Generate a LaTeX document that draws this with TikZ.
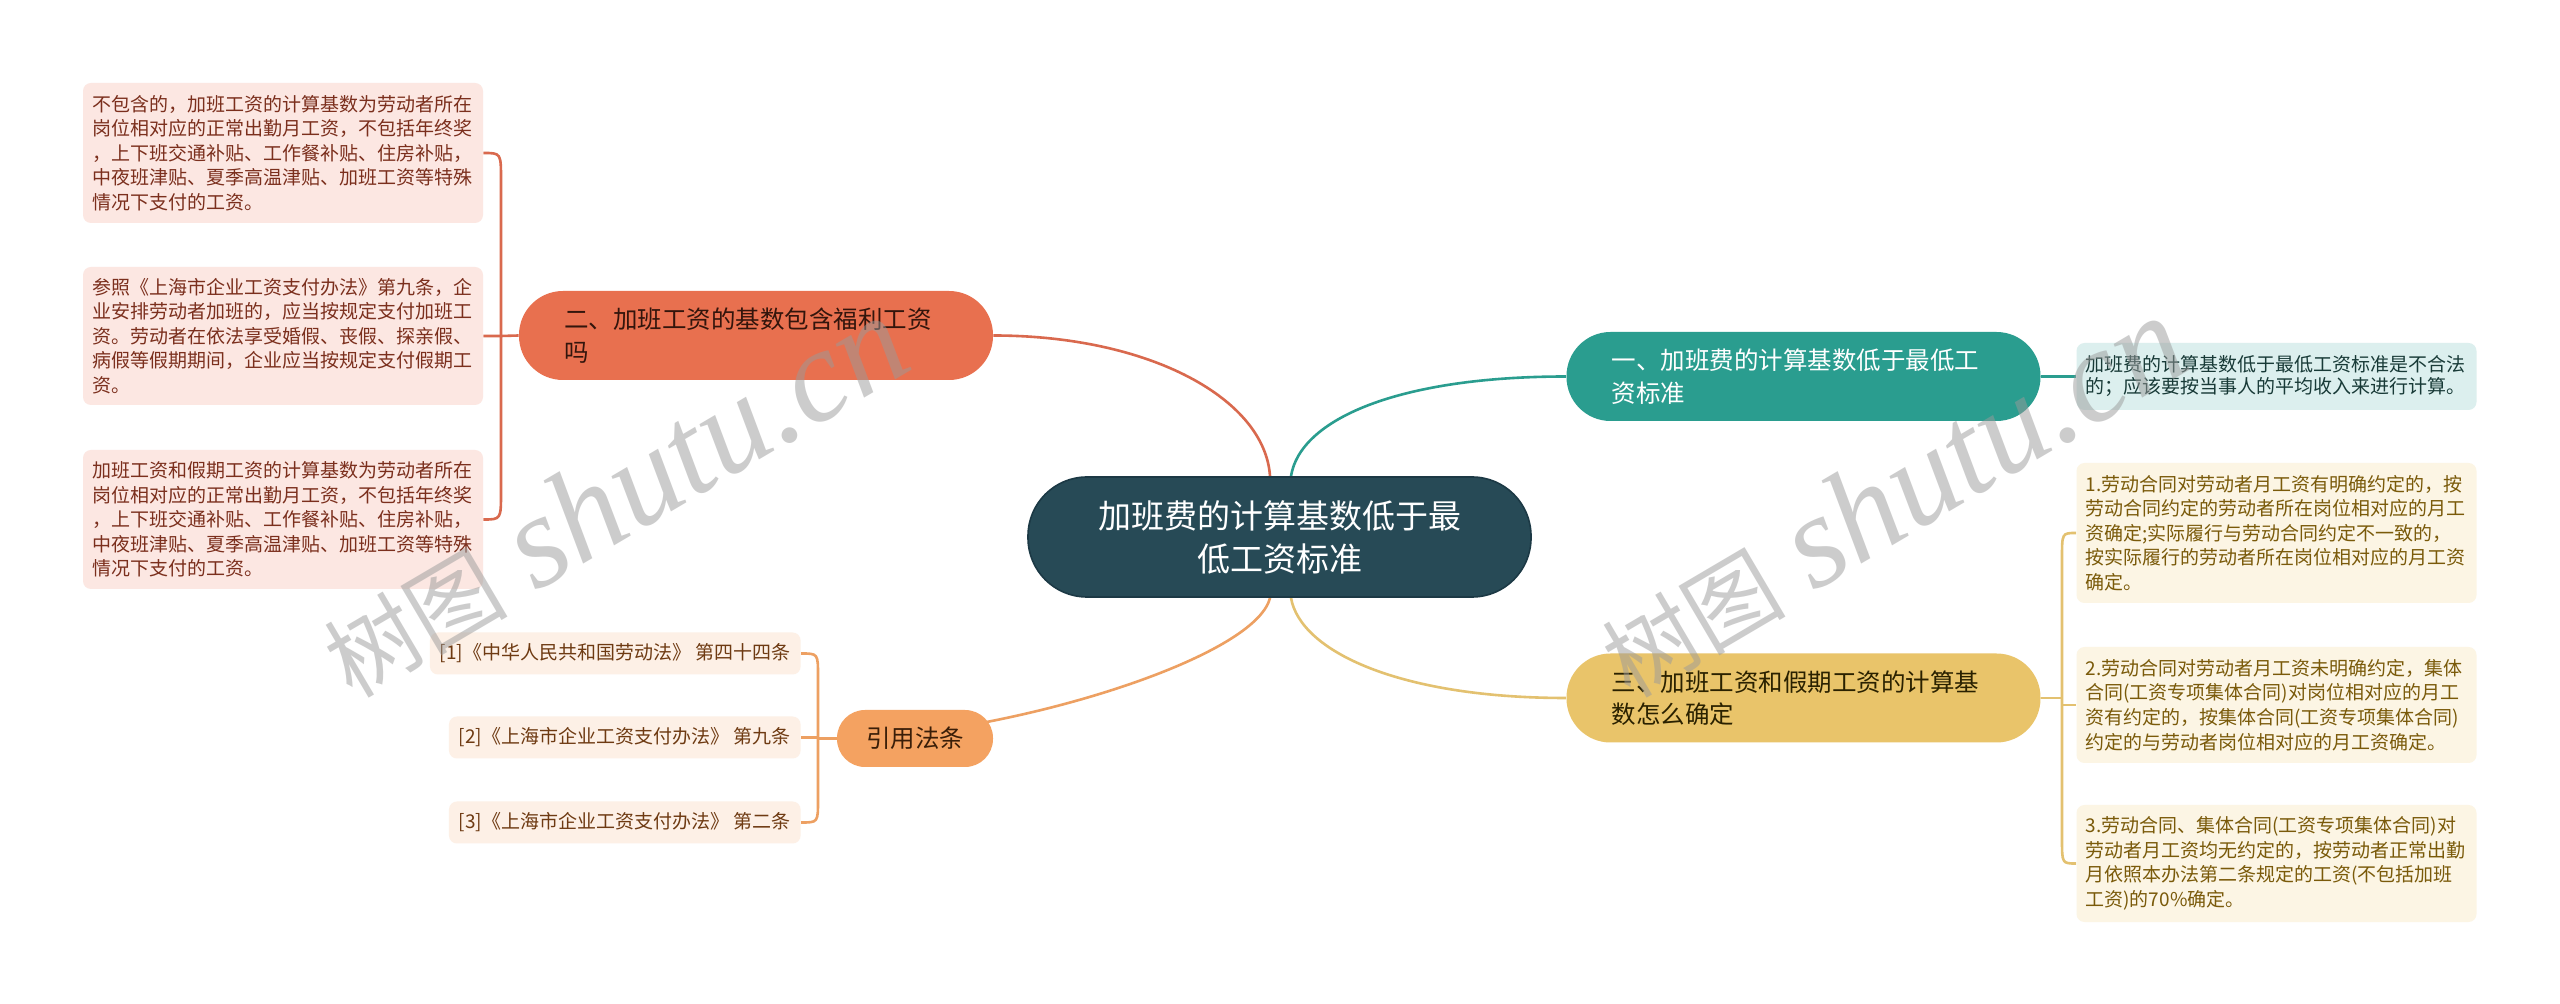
\documentclass[tikz,border=0pt]{standalone}
\usepackage{fontspec}
\setmainfont{Noto Sans CJK SC}
\newfontfamily\wmserif{Liberation Serif}
\usetikzlibrary{backgrounds}
\definecolor{cCentral}{HTML}{274A56}
\definecolor{cCentralB}{HTML}{1C3945}
\definecolor{cRed}{HTML}{E8704F}
\definecolor{cRedT}{HTML}{33150C}
\definecolor{cRedL}{HTML}{D9694E}
\definecolor{cTeal}{HTML}{2A9D8F}
\definecolor{cYel}{HTML}{E9C46A}
\definecolor{cYelT}{HTML}{2A2100}
\definecolor{cYelL}{HTML}{E3C170}
\definecolor{cOra}{HTML}{F4A261}
\definecolor{cOraT}{HTML}{3A1E08}
\definecolor{cOraL}{HTML}{EDA062}
\definecolor{lRed}{HTML}{FCE7E2}
\definecolor{lRedT}{HTML}{7B2F1D}
\definecolor{lTeal}{HTML}{DCEFEE}
\definecolor{lTealT}{HTML}{183A37}
\definecolor{lYel}{HTML}{FCF5E4}
\definecolor{lYelT}{HTML}{7A5A0A}
\definecolor{lOra}{HTML}{FDF0E6}
\definecolor{lOraT}{HTML}{6E3A12}
\definecolor{wmGray}{HTML}{9A9A9A}
\begin{document}
\begin{tikzpicture}[x=0.5pt,y=-0.5pt,
  centralnode/.style={fill=cCentral, draw=cCentralB, line width=0.8pt, text=white,
    font=\fontsize{16.5pt}{21.5pt}\selectfont, align=center, minimum width=251.5pt,
    minimum height=60pt, rounded corners=29.5pt, inner sep=0pt},
  branch/.style={minimum height=44.5pt, text width=192pt, inner xsep=22.5pt, inner ysep=0pt,
    align=left, rounded corners=22pt, font=\fontsize{12.25pt}{16.25pt}\selectfont},
  refnode/.style={fill=cOra, text=cOraT, minimum width=78pt, minimum height=28.5pt,
    rounded corners=14pt, font=\fontsize{12.25pt}{15pt}\selectfont, inner sep=0pt},
  leaf/.style={text width=191pt, inner xsep=4.5pt, inner ysep=0pt, align=left,
    rounded corners=4pt, font=\fontsize{9.5pt}{12.3pt}\selectfont},
  refleaf/.style={inner xsep=5pt, inner ysep=0pt, minimum height=21pt, rounded corners=4pt,
    fill=lOra, text=lOraT, font=\fontsize{9.5pt}{12pt}\selectfont, anchor=east},
  con/.style={line width=1.3pt},
  wm/.style={text=wmGray, opacity=0.5, inner sep=0pt, anchor=base west, rotate=30.5}
]
\useasboundingbox (0,0) rectangle (2560,1004);

% central and branch nodes
\node[centralnode] (c) at (1279.5,537) {加班费的计算基数低于最\\低工资标准};
\node[branch, fill=cRed, text=cRedT] (b2) at (756,335.5) {二、加班工资的基数包含福利工资\\吗};
\node[branch, fill=cTeal, text=white] (b1) at (1803.5,376.5) {一、加班费的计算基数低于最低工\\资标准};
\node[branch, fill=cYel, text=cYelT] (b3) at (1803.5,698) {三、加班工资和假期工资的计算基\\数怎么确定};
\node[refnode] (b4) at (915,738.5) {引用法条};

% left leaves
\node[leaf, fill=lRed, text=lRedT, minimum height=70pt] (l1) at (283,153) {不包含的，加班工资的计算基数为劳动者所在\\岗位相对应的正常出勤月工资，不包括年终奖\\，上下班交通补贴、工作餐补贴、住房补贴，\\中夜班津贴、夏季高温津贴、加班工资等特殊\\情况下支付的工资。};
\node[leaf, fill=lRed, text=lRedT, minimum height=69pt] (l2) at (283,336) {参照《上海市企业工资支付办法》第九条，企\\业安排劳动者加班的，应当按规定支付加班工\\资。劳动者在依法享受婚假、丧假、探亲假、\\病假等假期期间，企业应当按规定支付假期工\\资。};
\node[leaf, fill=lRed, text=lRedT, minimum height=69.5pt] (l3) at (283,519.5) {加班工资和假期工资的计算基数为劳动者所在\\岗位相对应的正常出勤月工资，不包括年终奖\\，上下班交通补贴、工作餐补贴、住房补贴，\\中夜班津贴、夏季高温津贴、加班工资等特殊\\情况下支付的工资。};

% right leaves
\node[leaf, fill=lTeal, text=lTealT, minimum height=33.5pt, font=\fontsize{9.5pt}{11pt}\selectfont] (t1) at (2276.5,376.5) {加班费的计算基数低于最低工资标准是不合法\\的；应该要按当事人的平均收入来进行计算。};
\node[leaf, fill=lYel, text=lYelT, minimum height=70pt] (y1) at (2276.5,533) {1.劳动合同对劳动者月工资有明确约定的，按\\劳动合同约定的劳动者所在岗位相对应的月工\\资确定;实际履行与劳动合同约定不一致的，\\按实际履行的劳动者所在岗位相对应的月工资\\确定。};
\node[leaf, fill=lYel, text=lYelT, minimum height=58pt] (y2) at (2276.5,705) {2.劳动合同对劳动者月工资未明确约定，集体\\合同(工资专项集体合同)对岗位相对应的月工\\资有约定的，按集体合同(工资专项集体合同)\\约定的与劳动者岗位相对应的月工资确定。};
\node[leaf, fill=lYel, text=lYelT, minimum height=58.5pt] (y3) at (2276.5,863.5) {3.劳动合同、集体合同(工资专项集体合同)对\\劳动者月工资均无约定的，按劳动者正常出勤\\月依照本办法第二条规定的工资(不包括加班\\工资)的70\%确定。};

% reference leaves
\node[refleaf] (r1) at (801,653.5) {[1]《中华人民共和国劳动法》 第四十四条};
\node[refleaf] (r2) at (801,737.5) {[2]《上海市企业工资支付办法》 第九条};
\node[refleaf] (r3) at (801,822.5) {[3]《上海市企业工资支付办法》 第二条};

% junction coordinates
\coordinate (lb) at (501,336);
\coordinate (yb) at (2062,698);
\coordinate (rb) at (818,738.5);

\begin{scope}[on background layer]
\fill[white] (0,0) rectangle (2560,1004);
% main curves
\draw[con, cRedL] ([xshift=-4.75pt]c.north) .. controls +(-2.5pt,38.5pt) and +(78.5pt,0pt) .. (b2.east);
\draw[con, cTeal] ([xshift=5.75pt]c.north) .. controls +(4.5pt,28.5pt) and +(-84pt,0pt) .. (b1.west);
\draw[con, cYelL] ([xshift=5.75pt]c.south) .. controls +(4.5pt,-26.5pt) and +(-84pt,0pt) .. (b3.west);
\draw[con, cOraL] ([xshift=-4.75pt]c.south) .. controls +(-7.5pt,-31.5pt) and +(78.5pt,0pt) .. (b4.west);
% left bracket
\draw[con, cRedL] (b2.west) -- (lb) -- (l2.east);
\draw[con, cRedL] (l1.east) .. controls (501,153) .. (501,180) -- (501,492) .. controls (501,519.5) .. (l3.east);
% teal
\draw[con, cTeal] (b1.east) -- (t1.west);
% yellow bracket
\draw[con, cYelL] (b3.east) -- (yb);
\draw[con, cYelL] (yb |- y2.west) -- (y2.west);
\draw[con, cYelL] (y1.west) .. controls (2062,533) .. (2062,558) -- (2062,839) .. controls (2062,863.5) .. (y3.west);
% reference bracket
\draw[con, cOraL] (b4.west) -- (rb);
\draw[con, cOraL] (rb |- r2.east) -- (r2.east);
\draw[con, cOraL] (r1.east) .. controls (818,653.5) .. (818,676) -- (818,800) .. controls (818,822.5) .. (r3.east);
\end{scope}

% watermark
\node[wm] (wm1) at (352,700) {{\fontsize{46pt}{46pt}\selectfont 树图}\hspace{14pt}{\wmserif\itshape\fontsize{66pt}{66pt}\selectfont shutu.cn}};
\node[wm] (wm2) at (1630,700) {{\fontsize{46pt}{46pt}\selectfont 树图}\hspace{14pt}{\wmserif\itshape\fontsize{66pt}{66pt}\selectfont shutu.cn}};
\end{tikzpicture}
\end{document}
